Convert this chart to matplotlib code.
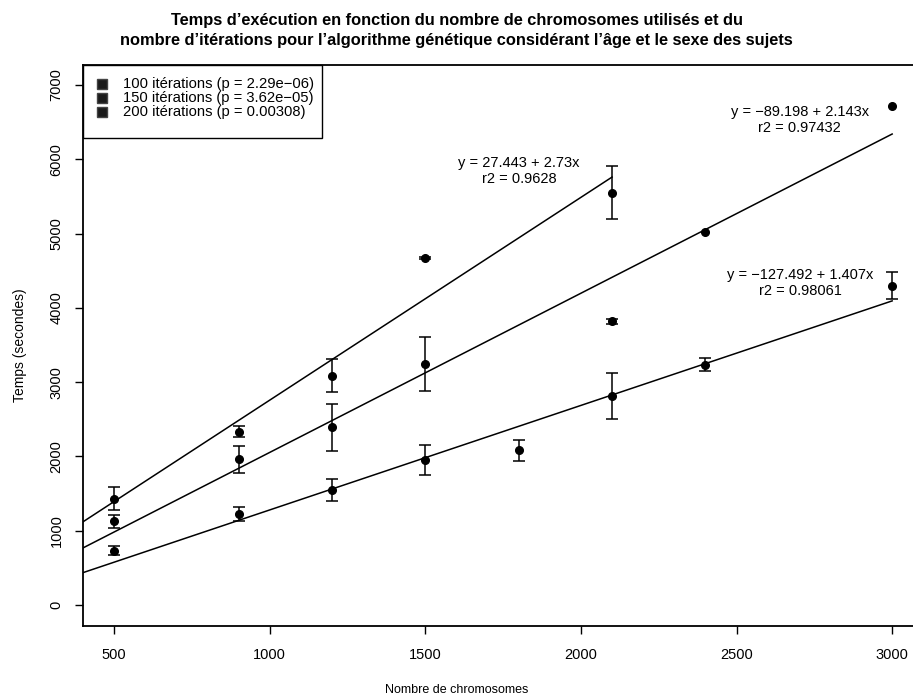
import numpy as np
import matplotlib

matplotlib.use("Agg")
import matplotlib.pyplot as plt
from matplotlib.lines import Line2D
from matplotlib.patches import Rectangle

plt.rcParams["font.family"] = ["Liberation Sans", "DejaVu Sans"]

# Mean run time (s) and error half-width per chromosome count, one block per iteration count.
chrom_100 = [500, 900, 1200, 1500, 1800, 2100, 2400, 3000]
temps_100 = [730, 1225, 1550, 1945, 2080, 2815, 3235, 4295]
err_100 = [58, 100, 146, 202, 140, 308, 90, 182]

chrom_150 = [500, 900, 1200, 1500, 2100, 2400, 3000]
temps_150 = [1125, 1960, 2390, 3245, 3820, 5015, 6720]
err_150 = [90, 185, 315, 363, 35, np.nan, np.nan]

chrom_200 = [500, 900, 1200, 1500, 2100]
temps_200 = [1430, 2330, 3085, 4667, 5550]
err_200 = [157, 75, 222, 15, 357]

# Linear fits: intercept, slope, r2, x range of the drawn line
fit_100 = (-127.492, 1.407, 0.98061, (400, 3000))
fit_150 = (-89.198, 2.143, 0.97432, (400, 3000))
fit_200 = (27.443, 2.73, 0.9628, (400, 2100))

legend_labels = [
    "100 itérations (p = 2.29e\u221206)",
    "150 itérations (p = 3.62e\u221205)",
    "200 itérations (p = 0.00308)",
]

title_lines = [
    "Temps d\u2019exécution en fonction du nombre de chromosomes utilisés et du",
    "nombre d\u2019itérations pour l\u2019algorithme génétique considérant l\u2019âge et le sexe des sujets",
]

# where each equation label sits (data coords)
label_pos = {
    "100": (2705, 4334),
    "150": (2703, 6528),
    "200": (1801, 5842),
}

W, H = 913, 699


def fx(px):
    return px / W


def fy(py):
    return 1 - py / H


fig = plt.figure(figsize=(W / 100, H / 100), dpi=100)
ax = fig.add_axes([fx(83), fy(626), 1 - fx(83), (626 - 65) / H])

series = [
    ("100", chrom_100, temps_100, err_100, fit_100),
    ("150", chrom_150, temps_150, err_150, fit_150),
    ("200", chrom_200, temps_200, err_200, fit_200),
]
for key, xs, ys, es, (a, b, r2, (x0, x1)) in series:
    ax.errorbar(xs, ys, yerr=es, fmt="o", color="black", ms=5.5, elinewidth=1.1,
                capsize=4, capthick=1.1, zorder=3)
    lx = np.array([x0, x1])
    ax.plot(lx, a + b * lx, color="black", lw=1.1, zorder=2)
    sign = "\u2212" if a < 0 else ""
    tx, ty = label_pos[key]
    ax.text(tx, ty, f"y = {sign}{abs(a):g} + {b:g}x\nr2 = {r2:g}", ha="center", va="center",
            fontsize=10.5, linespacing=1.25)

ax.set_xlim(400, 3067)
ax.set_ylim(-283, 7269)
ax.set_xticks(range(500, 3001, 500))
ax.set_yticks(range(0, 7001, 1000))
ax.set_yticklabels([str(v) for v in range(0, 7001, 1000)], rotation=90, va="center")
ax.tick_params(direction="out", length=6, width=1, labelsize=10.5)
ax.tick_params(axis="x", pad=10)
ax.tick_params(axis="y", pad=8)
ax.spines["right"].set_visible(False)
for s in ("left", "bottom", "top"):
    ax.spines[s].set_linewidth(1.3)

# legend box drawn by hand, R style: square keys, box flush with the top-left corner
fig.add_artist(Rectangle((fx(83), fy(138)), fx(322) - fx(83), (138 - 65) / H,
                         transform=fig.transFigure, fill=True, facecolor="white",
                         edgecolor="black", lw=1.0, zorder=4))
for i, lab in enumerate(legend_labels):
    row = 84 + 14 * i
    fig.add_artist(Line2D([fx(102)], [fy(row)], ls="none", marker="s", ms=7,
                          mfc="#1a1a1a", mec="#444444", transform=fig.transFigure, zorder=5))
    fig.text(fx(123), fy(row), lab, ha="left", va="center", fontsize=10.6, zorder=5)

for i, line in enumerate(title_lines):
    fig.text(0.5, fy(20 + 21 * i), line, ha="center", va="center", fontsize=11.8,
             fontweight="bold")
fig.text(fx(457), fy(690), "Nombre de chromosomes", ha="center", va="center", fontsize=9)
fig.text(fx(20), fy(345), "Temps (secondes)", ha="center", va="center", rotation=90, fontsize=10)

fig.savefig("out.png", dpi=100)
